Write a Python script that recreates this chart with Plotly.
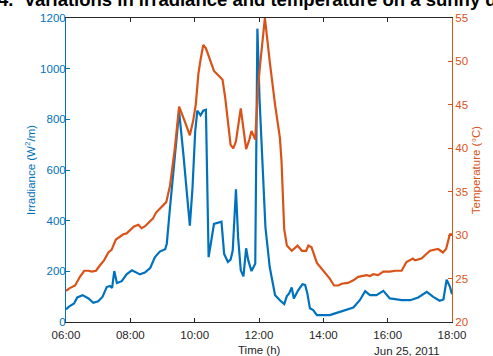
import plotly.graph_objects as go

DAY = "2011-06-25 "

# Irradiance samples (W/m^2)
irr_time = ["06:00", "06:07", "06:15", "06:21", "06:31", "06:42", "06:51", "07:00", "07:08", "07:16",
            "07:22", "07:26", "07:30", "07:35", "07:44", "07:53", "08:03", "08:11", "08:18", "08:27",
            "08:37", "08:46", "08:55", "09:05", "09:08", "09:14", "09:23", "09:31", "09:39", "09:45",
            "09:51", "09:56", "10:01", "10:05", "10:11", "10:16", "10:21", "10:26", "10:32", "10:36",
            "10:50", "10:55", "11:02", "11:07", "11:11", "11:17", "11:21", "11:26", "11:31", "11:36",
            "11:40", "11:46", "11:53", "11:57", "12:01", "12:07", "12:12", "12:20", "12:30", "12:39",
            "12:47", "12:52", "12:56", "13:01", "13:05", "13:13", "13:21", "13:26", "13:30", "13:35",
            "13:41", "13:48", "14:00", "14:12", "14:22", "14:37", "14:56", "15:08", "15:18", "15:27",
            "15:39", "15:52", "16:04", "16:14", "16:26", "16:42", "16:57", "17:13", "17:25", "17:37",
            "17:44", "17:50", "17:56", "18:00"]
irr_vals = [50, 63, 73, 97, 106, 93, 76, 82, 99, 138,
            142, 135, 201, 154, 161, 188, 204, 196, 188, 195,
            213, 256, 278, 287, 309, 452, 661, 831, 661, 505,
            380, 531, 753, 834, 816, 834, 838, 256, 335, 387,
            396, 269, 237, 246, 282, 524, 335, 204, 180, 291,
            243, 201, 230, 1158, 880, 596, 374, 217, 106, 86,
            71, 102, 112, 136, 93, 125, 149, 146, 115, 54,
            47, 27, 27, 27, 34, 45, 57, 86, 122, 106,
            106, 123, 93, 90, 86, 86, 97, 119, 99, 84,
            89, 167, 140, 110]

# Temperature samples (deg C)
tmp_time = ["06:00", "06:07", "06:17", "06:26", "06:34", "06:42", "06:48", "06:56", "07:03", "07:11",
            "07:19", "07:25", "07:33", "07:41", "07:47", "07:53", "07:59", "08:07", "08:15", "08:21",
            "08:27", "08:35", "08:42", "08:48", "08:55", "09:07", "09:14", "09:23", "09:31", "09:36",
            "09:44", "09:51", "09:57", "10:02", "10:07", "10:11", "10:16", "10:21", "10:29", "10:36",
            "10:44", "10:52", "10:57", "11:03", "11:07", "11:12", "11:17", "11:26", "11:31", "11:36",
            "11:42", "11:46", "11:53", "11:58", "12:02", "12:11", "12:20", "12:30", "12:39", "12:42",
            "12:47", "12:52", "13:01", "13:12", "13:20", "13:28", "13:32", "13:38", "13:48", "14:00",
            "14:12", "14:20", "14:28", "14:34", "14:46", "14:56", "15:05", "15:21", "15:27", "15:33",
            "15:42", "15:52", "16:04", "16:14", "16:26", "16:35", "16:47", "16:51", "17:03", "17:19",
            "17:34", "17:43", "17:49", "17:56", "18:00"]
tmp_vals = [23.6, 23.9, 24.2, 25.2, 25.9, 25.9, 25.8, 25.9, 26.5, 27.1,
            28.0, 28.3, 29.5, 29.8, 30.1, 30.2, 30.5, 31.0, 31.2, 30.8,
            31.0, 31.5, 31.9, 32.6, 33.0, 33.8, 35.7, 40.0, 44.8, 43.9,
            42.7, 41.5, 43.1, 45.0, 48.6, 50.2, 51.9, 51.5, 50.2, 48.9,
            48.4, 47.9, 45.8, 42.3, 40.4, 40.0, 40.8, 44.6, 42.3, 39.9,
            41.0, 42.0, 41.0, 46.9, 49.6, 55.0, 50.0, 45.0, 41.2, 38.5,
            30.7, 28.8, 28.2, 28.8, 28.2, 28.2, 28.8, 28.6, 26.8, 25.9,
            25.0, 24.2, 24.2, 24.4, 24.5, 24.8, 25.2, 25.4, 25.3, 25.5,
            25.4, 25.8, 25.8, 25.9, 25.9, 26.9, 27.3, 27.1, 27.3, 28.2,
            28.4, 28.0, 28.4, 30.1, 30.1]

x_ticks = ["06:00", "08:00", "10:00", "12:00", "14:00", "16:00", "18:00"]

BLUE = "#0072BD"
ORANGE = "#D95319"
DARK = "#262626"
FONT = "Liberation Sans, Arial, sans-serif"

fig = go.Figure()
fig.add_trace(go.Scatter(x=[DAY + t for t in irr_time], y=irr_vals, mode="lines",
                         line=dict(color=BLUE, width=2.2), yaxis="y"))
fig.add_trace(go.Scatter(x=[DAY + t for t in tmp_time], y=tmp_vals, mode="lines",
                         line=dict(color=ORANGE, width=2.2), yaxis="y2"))

fig.update_layout(
    width=493, height=356,
    margin=dict(l=66, r=41, t=16, b=34),
    paper_bgcolor="white", plot_bgcolor="white",
    showlegend=False,
    font=dict(family=FONT, size=11.5, color=DARK),
    xaxis=dict(
        type="date",
        range=[DAY + x_ticks[0], DAY + x_ticks[-1]],
        tickvals=[DAY + t for t in x_ticks], ticktext=x_ticks,
        ticks="inside", ticklen=4, tickwidth=1, tickcolor=DARK,
        showline=True, linecolor=DARK, linewidth=1, mirror="ticks",
        showgrid=False, zeroline=False, ticklabelstandoff=2,
        tickfont=dict(color=DARK, size=11.5),
    ),
    yaxis=dict(
        range=[0, 1200], dtick=200,
        ticks="inside", ticklen=4, tickwidth=1, tickcolor=BLUE,
        showline=True, linecolor=BLUE, linewidth=1,
        showgrid=False, zeroline=False, ticklabelstandoff=-3,
        tickfont=dict(color=BLUE, size=11.5),
        title=dict(text="Irradiance (W<sup>2</sup>/m)", font=dict(color=BLUE, size=11.5), standoff=2),
    ),
    yaxis2=dict(
        range=[20, 55], dtick=5,
        overlaying="y", side="right", anchor="x",
        ticks="inside", ticklen=4, tickwidth=1, tickcolor=ORANGE,
        showline=True, linecolor=ORANGE, linewidth=1,
        showgrid=False, zeroline=False,
        tickfont=dict(color=ORANGE, size=11.5),
        title=dict(text="Temperature (\u00b0C)", font=dict(color=ORANGE, size=11.5), standoff=4),
    ),
    annotations=[
        dict(text="<b>4.\u00a0 Variations in irradiance and temperature on a sunny day</b>",
             xref="paper", yref="paper", x=0.5, y=1, xanchor="center", yanchor="bottom",
             xshift=-1, yshift=6, showarrow=False, font=dict(family=FONT, size=18.5, color="black")),
        dict(text="Time (h)", xref="paper", yref="paper", x=0.5, y=0,
             xanchor="center", yanchor="top", yshift=-20, showarrow=False,
             font=dict(family=FONT, size=11.5, color=DARK)),
        dict(text="Jun 25, 2011", xref="paper", yref="paper", x=0.974, y=0,
             xanchor="right", yanchor="top", yshift=-21, showarrow=False,
             font=dict(family=FONT, size=11.5, color=DARK)),
    ],
)

fig.write_html("out.html")
